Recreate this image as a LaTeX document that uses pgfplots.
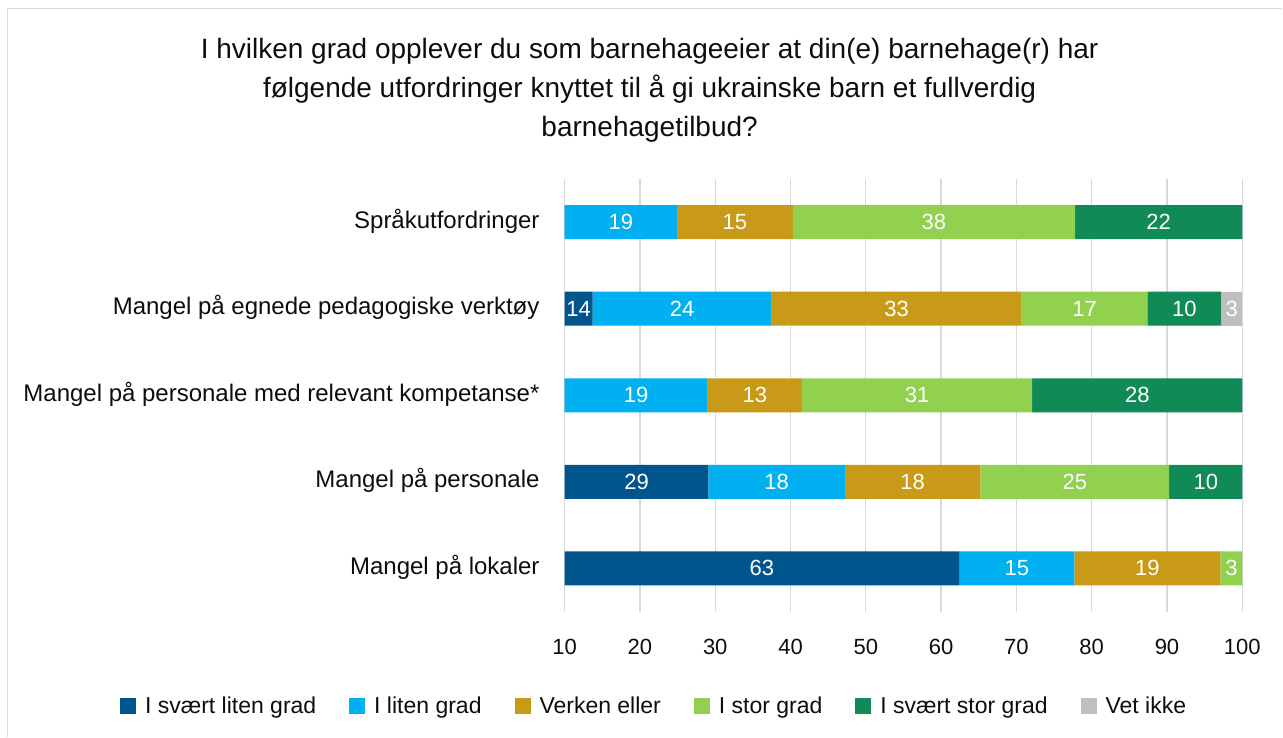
\documentclass[border=0pt]{standalone}
\usepackage{fontspec}
\setmainfont{Liberation Sans}
\usepackage{pgfplots}
\pgfplotsset{compat=1.18}
\definecolor{c1}{HTML}{00558C}
\definecolor{c2}{HTML}{00B0F0}
\definecolor{c3}{HTML}{C99A17}
\definecolor{c4}{HTML}{92D050}
\definecolor{c5}{HTML}{108B58}
\definecolor{c6}{HTML}{BFBFBF}
\definecolor{gridc}{HTML}{D9D9D9}
\definecolor{txt}{HTML}{0D0D0D}
\newcommand{\sq}[1]{\fill[#1] (0pt,-8pt) rectangle (16pt,8pt); \path (23pt,0pt);}
\begin{document}
\begin{tikzpicture}
\path (0pt,0pt) rectangle (1283pt,737pt);
\draw[gridc, line width=1.5pt] (7.3pt,0pt) -- (7.3pt,728.5pt) -- (1283pt,728.5pt);
\begin{scope}[every node/.style={anchor=base, inner sep=0pt, text=txt, font=\fontsize{28}{34}\selectfont}]
\node at (650pt,678pt) {I hvilken grad opplever du som barnehageeier at din(e) barnehage(r) har};
\node at (650pt,639.3pt) {følgende utfordringer knyttet til å gi ukrainske barn et fullverdig};
\node at (650pt,600.6pt) {barnehagetilbud?};
\end{scope}
\begin{axis}[
  at={(565pt,125pt)}, anchor=south west,
  scale only axis, width=678pt, height=433pt,
  xbar stacked, bar width=34pt,
  xmin=10, xmax=100, ymin=-0.5, ymax=4.5,
  xtick={10,20,30,40,50,60,70,80,90,100},
  ytick={0,1,2,3,4},
  yticklabels={Mangel på lokaler, Mangel på personale, Mangel på personale med relevant kompetanse*, Mangel på egnede pedagogiske verktøy, Språkutfordringer},
  axis line style={draw=none},
  major tick length=0pt,
  tick style={draw=none},
  xmajorgrids, ymajorgrids=false,
  grid style={gridc, line width=1.3pt},
  /pgf/number format/assume math mode=true,
  xticklabel style={anchor=base, inner sep=0pt, yshift=-43pt, text=txt, font=\fontsize{22}{26}\selectfont},
  yticklabel style={anchor=base east, inner sep=0pt, xshift=-25pt, yshift=-6pt, text=txt, font=\fontsize{24}{28}\selectfont},
  legend style={draw=none, fill=none, at={(0.132,-0.217)}, anchor=center,
    font=\fontsize{23}{27}\selectfont, text=txt,
    /tikz/every even column/.append style={column sep=31pt}},
  legend columns=6,
  legend cell align=left,
]
\addplot[fill=c1, draw=none, legend image code/.code={\sq{c1}}] coordinates {(62.4,0) (29.1,1) (9.7,2) (13.7,3) (6.0,4)};
\addlegendentry{I svært liten grad}
\addplot[fill=c2, draw=none, legend image code/.code={\sq{c2}}] coordinates {(15.3,0) (18.1,1) (19.3,2) (23.8,3) (18.9,4)};
\addlegendentry{I liten grad}
\addplot[fill=c3, draw=none, legend image code/.code={\sq{c3}}] coordinates {(19.4,0) (18.0,1) (12.5,2) (33.2,3) (15.4,4)};
\addlegendentry{Verken eller}
\addplot[fill=c4, draw=none, legend image code/.code={\sq{c4}}] coordinates {(2.9,0) (25.1,1) (30.6,2) (16.7,3) (37.5,4)};
\addlegendentry{I stor grad}
\addplot[fill=c5, draw=none, legend image code/.code={\sq{c5}}] coordinates {(0,0) (9.7,1) (27.9,2) (9.8,3) (22.2,4)};
\addlegendentry{I svært stor grad}
\addplot[fill=c6, draw=none, legend image code/.code={\sq{c6}}] coordinates {(0,0) (0,1) (0,2) (2.8,3) (0,4)};
\addlegendentry{Vet ikke}
\end{axis}
\begin{axis}[
  at={(565pt,125pt)}, anchor=south west,
  scale only axis, width=678pt, height=433pt,
  xmin=10, xmax=100, ymin=-0.5, ymax=4.5,
  hide axis, clip=false,
]
\addplot[only marks, mark=none, point meta=explicit symbolic, nodes near coords,
  every node near coord/.append style={anchor=center, inner sep=0pt, text=white, font=\fontsize{22}{26}\selectfont}]
coordinates {
(17.45,4) [19] (32.6,4) [15] (59.05,4) [38] (88.9,4) [22]
(11.85,3) [14] (25.6,3) [24] (54.1,3) [33] (79.05,3) [17] (92.3,3) [10] (98.6,3) [3]
(19.5,2) [19] (35.25,2) [13] (56.8,2) [31] (86.05,2) [28]
(19.55,1) [29] (38.15,1) [18] (56.2,1) [18] (77.75,1) [25] (95.15,1) [10]
(36.2,0) [63] (70.05,0) [15] (87.4,0) [19] (98.55,0) [3]
};
\end{axis}
\end{tikzpicture}
\end{document}
